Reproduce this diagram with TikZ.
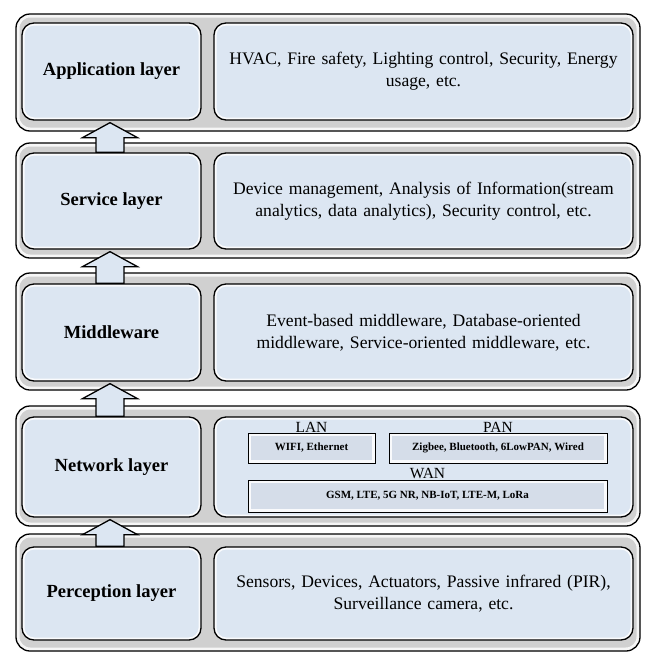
\documentclass[tikz,border=0pt]{standalone}
\usepackage{fontspec}
\setmainfont{Liberation Serif}
\usetikzlibrary{calc}
\pgfdeclarelayer{bg}
\pgfdeclarelayer{mid}
\pgfsetlayers{bg,mid,main}
\definecolor{boxblue}{HTML}{DCE6F2}
\definecolor{laygray}{HTML}{D0D0D0}
\definecolor{subfill}{HTML}{D5DDE9}
\begin{document}
\begin{tikzpicture}[x=1pt,y=-1pt,
  layerbox/.style={draw=black, line width=1.3pt, fill=laygray, rounded corners=14pt,
    path picture={\draw[white!80!laygray, line width=7pt, rounded corners=14pt]
      (path picture bounding box.south west) rectangle (path picture bounding box.north east);}},
  innerbox/.style={draw=black, line width=1.3pt, fill=boxblue, rounded corners=12pt,
    inner sep=0pt, align=center,
    path picture={\draw[white!85!boxblue, line width=5pt, rounded corners=12pt]
      (path picture bounding box.south west) rectangle (path picture bounding box.north east);}},
  leftbox/.style={innerbox, minimum width=179pt, font=\fontsize{18.5}{21}\selectfont\bfseries},
  rightbox/.style={innerbox, minimum width=419pt, text width=412pt, font=\fontsize{17.6}{22}\selectfont},
  subbox/.style={draw=black, line width=1pt, fill=subfill, inner sep=0pt,
    font=\fontsize{11}{13}\selectfont\bfseries,
    path picture={\draw[white!85!subfill, line width=6pt]
      (path picture bounding box.south west) rectangle (path picture bounding box.north east);}},
  sublabel/.style={anchor=south, inner sep=0.3pt, font=\fontsize{15.5}{16}\selectfont},
  blockarrow/.style={draw=black, line width=1.3pt, fill=boxblue, line join=miter}
]
\useasboundingbox (0,0) rectangle (645,654);

\begin{pgfonlayer}{bg}
  \fill[white] (0,0) rectangle (645,654);
  \draw[layerbox] (16,14) rectangle (640,131);
  \draw[layerbox] (16,143) rectangle (640,258);
  \draw[layerbox] (16,273) rectangle (640,390);
  \draw[layerbox] (16,406) rectangle (640,526);
  \draw[layerbox] (16,534) rectangle (640,651);
\end{pgfonlayer}

% Application
\node[leftbox, minimum height=97pt] (appL) at (111.5,71.5) {Application layer};
\node[rightbox, minimum height=97pt] (appR) at (423.5,71.5)
  {HVAC, Fire safety, Lighting control, Security, Energy\\usage, etc.};
% Service
\node[leftbox, minimum height=96pt] (servL) at (111.5,201) {Service layer};
\node[rightbox, minimum height=96pt] (servR) at (423.5,201)
  {Device management, Analysis of Information(stream\\analytics, data analytics), Security control, etc.};
% Middleware
\node[leftbox, minimum height=97pt] (midL) at (111.5,332.5) {Middleware};
\node[rightbox, minimum height=97pt] (midR) at (423.5,332.5)
  {Event-based middleware, Database-oriented\\middleware, Service-oriented middleware, etc.};
% Network
\node[leftbox, minimum height=100pt] (netL) at (111.5,467) {Network layer};
\node[rightbox, minimum height=100pt] (netR) at (423.5,467) {};
\node[subbox, minimum width=127pt, minimum height=30pt] (lanbox) at (311.5,448) {WIFI, Ethernet};
\node[subbox, minimum width=218pt, minimum height=30pt] (panbox) at (498,448) {Zigbee, Bluetooth, 6LowPAN, Wired};
\node[subbox, minimum width=359pt, minimum height=32pt] (wanbox) at (427.5,496) {GSM, LTE, 5G NR, NB-IoT, LTE-M, LoRa};
\node[sublabel] (lanlab) at (lanbox.north) {LAN};
\node[sublabel] (panlab) at (panbox.north) {PAN};
\node[sublabel] (wanlab) at (wanbox.north) {WAN};
% Perception
\node[leftbox, minimum height=93pt] (perL) at (111.5,593.5) {Perception layer};
\node[rightbox, minimum height=93pt] (perR) at (423.5,593.5)
  {Sensors, Devices, Actuators, Passive infrared (PIR),\\Surveillance camera, etc.};

\begin{pgfonlayer}{mid}
  \foreach \a/\b in {appL/servL, servL/midL, midL/netL, netL/perL} {
    \draw[blockarrow] ($(\a.south)+(-1.5,2)$) -- ++(27.5,15) -- ++(-13.5,0)
      -- ($(\b.north)+(12.5,0)$) -- ($(\b.north)+(-15.5,0)$)
      -- ($(\a.south)+(-15.5,17)$) -- ($(\a.south)+(-29,17)$) -- cycle;
  }
\end{pgfonlayer}
\end{tikzpicture}
\end{document}
